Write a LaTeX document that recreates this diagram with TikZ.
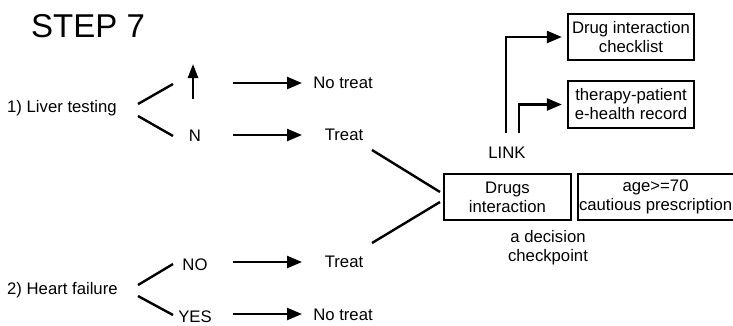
\documentclass[tikz,border=0pt]{standalone}
\usepackage{fontspec}
\setmainfont{Liberation Sans}
\usetikzlibrary{arrows.meta}

\begin{document}
\begin{tikzpicture}[x=1pt,y=-1pt,
  font=\fontsize{16.7}{19}\selectfont,
  lbl/.style={inner sep=0pt, anchor=center, align=center},
  box/.style={draw, line width=2.2pt, inner sep=0pt, minimum width=126pt,
              minimum height=46pt, align=center},
  wire/.style={line width=2.4pt},
  arr/.style={line width=2.4pt, -{Triangle[length=15pt,width=12pt]}}]
\useasboundingbox (0,0) rectangle (733,325);

% title
\node[lbl, anchor=west, font=\fontsize{33}{36}\selectfont] (title) at (31,26) {STEP 7};

% question 1: liver testing
\node[lbl, anchor=west] (liver) at (7,108) {1) Liver testing};
\coordinate (lvA) at (138,104);
\coordinate (lvB) at (138,116);
\coordinate (yes1) at (173,84);
\coordinate (no1) at (173,136);
\coordinate (upbot) at (193,99);
\coordinate (uptop) at (193,64);
\node[lbl] (n1) at (195,136) {N};
\node[lbl] (notreat1) at (343,83) {No treat};
\node[lbl] (treat1) at (344,135) {Treat};
\coordinate (a1s) at (233,83);
\coordinate (a2s) at (233,135);
\coordinate (a1e) at (302,83);
\coordinate (a2e) at (302,135);

\draw[wire] (lvA) -- (yes1);
\draw[wire] (lvB) -- (no1);
\draw[line width=2.4pt, -{Triangle[length=14pt,width=10pt]}] (upbot) -- (uptop);
\draw[arr] (a1s) -- (a1e);
\draw[arr] (a2s) -- (a2e);

% question 2: heart failure
\node[lbl, anchor=west] (heart) at (7,290) {2) Heart failure};
\coordinate (hfA) at (138,285);
\coordinate (hfB) at (138,296);
\coordinate (no2) at (173,264);
\coordinate (yes2) at (173,315);
\node[lbl] (nolbl) at (195,265) {NO};
\node[lbl] (yeslbl) at (195,317) {YES};
\node[lbl] (treat2) at (344,262) {Treat};
\node[lbl] (notreat2) at (343,315) {No treat};
\coordinate (b1s) at (233,262);
\coordinate (b2s) at (233,314);
\coordinate (b1e) at (302,262);
\coordinate (b2e) at (302,314);

\draw[wire] (hfA) -- (no2);
\draw[wire] (hfB) -- (yes2);
\draw[arr] (b1s) -- (b1e);
\draw[arr] (b2s) -- (b2e);

% checkpoint
\node[box, minimum width=127pt] (drugs) at (507.5,197) {Drugs\\interaction};
\node[box, minimum width=160pt, anchor=west] (age) at (577,197) {\hspace*{-5pt}age>=70\\\hspace*{-5pt}cautious prescription};
\node[lbl] (decision) at (548,248) {a decision\\checkpoint};
\coordinate (c1s) at (372,150);
\coordinate (c1e) at (440,192);
\coordinate (c2s) at (372,243);
\coordinate (c2e) at (440,202);
\draw[wire] (c1s) -- (c1e);
\draw[wire] (c2s) -- (c2e);

% links
\node[lbl] (link) at (507,153) {LINK};
\node[box] (checklist) at (631,37) {Drug interaction\\checklist};
\node[box, minimum height=47pt] (record) at (631,104.5) {therapy-patient\\e-health record};
\coordinate (l1) at (506,133);
\coordinate (l2) at (519,133);
\draw[arr] (l1) |- ([xshift=-5pt]checklist.west);
\draw[arr] (l2) |- ([xshift=-5pt]record.west);
\end{tikzpicture}
\end{document}
